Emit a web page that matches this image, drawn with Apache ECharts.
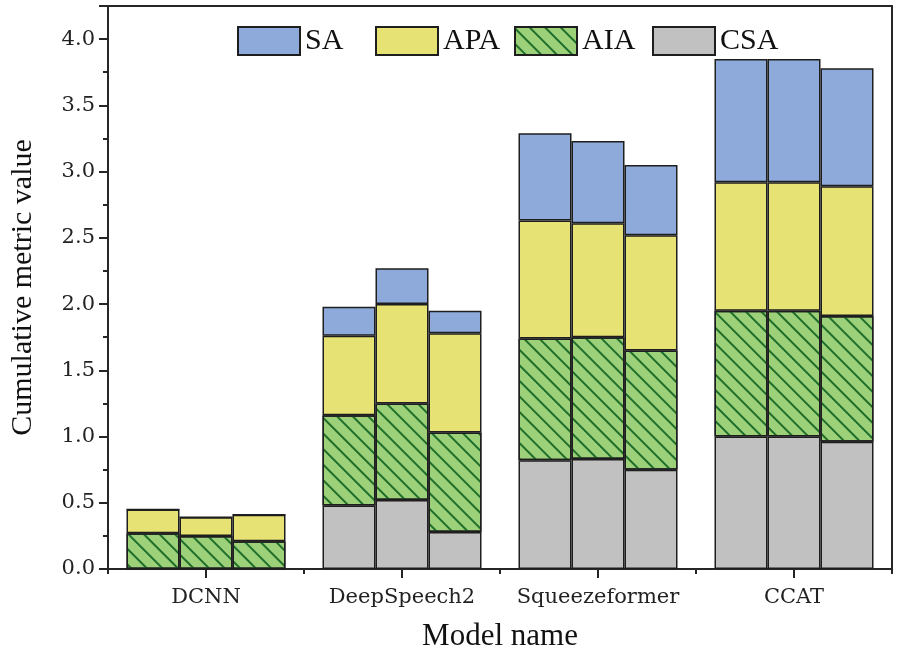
<!DOCTYPE html>
<html>
<head>
<meta charset="utf-8">
<script src="https://cdn.jsdelivr.net/npm/echarts@6/dist/echarts.min.js"></script>
<style>
  html, body { margin: 0; padding: 0; background: #fff; }
  #chart { width: 900px; height: 658px; }
</style>
</head>
<body>
<div id="chart"></div>
<script>
// model groups on the x axis
const categories = ['DCNN', 'DeepSpeech2', 'Squeezeformer', 'CCAT'];

// three bars per model, one row per bar position (left, middle, right)
const csaValues = [
  [0, 0.48, 0.82, 1.00],
  [0, 0.52, 0.83, 1.00],
  [0, 0.28, 0.75, 0.96],
];
const aiaValues = [
  [0.27, 0.68, 0.92, 0.95],
  [0.25, 0.73, 0.92, 0.95],
  [0.21, 0.75, 0.90, 0.95],
];
const apaValues = [
  [0.18, 0.60, 0.89, 0.97],
  [0.14, 0.75, 0.86, 0.97],
  [0.20, 0.75, 0.87, 0.98],
];
const saValues = [
  [0, 0.22, 0.66, 0.93],
  [0, 0.27, 0.62, 0.93],
  [0, 0.17, 0.53, 0.89],
];

const legendNames = ['SA', 'APA', 'AIA', 'CSA'];

const edge = '#1e1e1e';
const metrics = [
  { name: 'CSA', values: csaValues, color: '#c1c1c1' },
  { name: 'AIA', values: aiaValues, color: '#9cd17a', hatch: true },
  { name: 'APA', values: apaValues, color: '#e6e374' },
  { name: 'SA', values: saValues, color: '#8eaadb' },
];

const series = [];
for (let p = 0; p < 3; p++) {
  metrics.forEach((m) => {
    const itemStyle = { color: m.color, borderColor: edge, borderWidth: 1.5 };
    if (m.hatch) {
      itemStyle.decal = {
        symbol: 'rect',
        color: '#1f6e2a',
        dashArrayX: [1, 0],
        dashArrayY: [1.6, 9],
        rotation: Math.PI / 4,
      };
    }
    series.push({
      type: 'bar',
      name: m.name,
      stack: 'bar' + p,
      xAxisIndex: 0,
      yAxisIndex: 0,
      barWidth: 53,
      barGap: '0%',
      itemStyle,
      emphasis: { disabled: true },
      data: m.values[p],
    });
  });
}

const frameLine = { show: true, lineStyle: { color: '#262626', width: 2 } };
const serif = 'DejaVu Serif';
const times = 'Liberation Serif';

// one legend box per entry so the columns sit at fixed places like the original
const legendLeft = [232, 370, 509, 647];
const legends = legendNames.map((name, i) => ({
  data: [name],
  left: legendLeft[i],
  top: 21,
  icon: 'rect',
  itemWidth: 62,
  itemHeight: 28,
  textStyle: { fontFamily: times, fontSize: 30, color: '#111' },
}));

const chart = echarts.init(document.getElementById('chart'));
chart.setOption({
  animation: false,
  backgroundColor: '#fff',
  legend: legends,
  grid: { left: 105, right: 8, top: 6, bottom: 89 },
  xAxis: [
    {
      type: 'category',
      data: categories,
      position: 'bottom',
      axisLine: frameLine,
      axisTick: { show: true, alignWithLabel: true, length: 9, lineStyle: { color: '#262626', width: 2 } },
      axisLabel: { interval: 0, fontFamily: serif, fontSize: 21, color: '#222', margin: 18 },
      name: 'Model name',
      nameLocation: 'middle',
      nameGap: 52,
      nameTextStyle: { fontFamily: times, fontSize: 31, color: '#111' },
    },
    {
      type: 'category',
      data: categories,
      position: 'bottom',
      axisLine: { show: false },
      axisTick: { show: true, interval: 0, length: 5, lineStyle: { color: '#262626', width: 2 } },
      axisLabel: { show: false },
    },
    {
      type: 'category',
      data: categories,
      position: 'top',
      axisLine: frameLine,
      axisTick: { show: false },
      axisLabel: { show: false },
    },
  ],
  yAxis: [
    {
      type: 'value',
      min: 0,
      max: 4.25,
      interval: 0.5,
      axisLine: frameLine,
      axisTick: { show: true, length: 9, lineStyle: { color: '#262626', width: 2 } },
      minorTick: { show: true, splitNumber: 2, length: 5, lineStyle: { color: '#262626', width: 2 } },
      splitLine: { show: false },
      axisLabel: {
        fontFamily: serif,
        fontSize: 21,
        color: '#222',
        margin: 13,
        formatter: (v) => (Math.abs(v * 2 - Math.round(v * 2)) < 1e-6 ? v.toFixed(1) : ''),
      },
      name: 'Cumulative metric value',
      nameLocation: 'middle',
      nameGap: 70,
      nameTextStyle: { fontFamily: times, fontSize: 30, color: '#111' },
    },
    {
      type: 'value',
      position: 'right',
      min: 0,
      max: 4.25,
      axisLine: frameLine,
      axisTick: { show: false },
      axisLabel: { show: false },
      splitLine: { show: false },
    },
  ],
  series,
});
</script>
</body>
</html>
